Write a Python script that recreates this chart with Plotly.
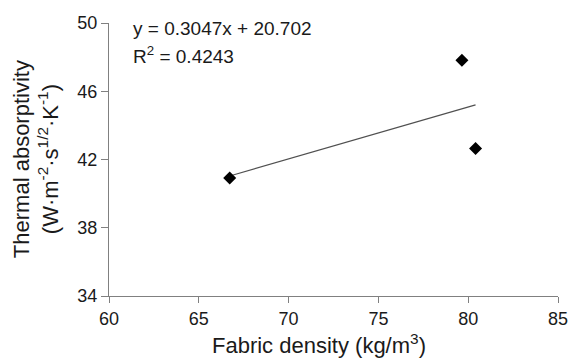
import plotly.graph_objects as go

density = [66.72, 79.65, 80.41]
absorptivity = [40.91, 47.81, 42.64]
slope = 0.3047
intercept = 20.702
r2 = 0.4243
x_ticks = [60, 65, 70, 75, 80, 85]
y_ticks = [34, 38, 42, 46, 50]

fit_x = [min(density), max(density)]
fit_y = [slope * v + intercept for v in fit_x]

FONT = "Liberation Sans, Arial, sans-serif"
TXT = "#1a1a1a"
AX = "#808080"
L, R, T, B = 109, 12, 23, 66
PW, PH = 580 - L - R, 362 - T - B


def px(x):
    return (x - L) / PW


def py(y):
    return (362 - B - y) / PH


fig = go.Figure()
fig.add_trace(go.Scatter(x=fit_x, y=fit_y, mode="lines",
                         line=dict(color="#505050", width=1.2), showlegend=False))
fig.add_trace(go.Scatter(x=density, y=absorptivity, mode="markers",
                         marker=dict(symbol="diamond", size=10, color="black"),
                         showlegend=False))

fig.update_layout(
    width=580, height=362,
    margin=dict(l=L, r=R, t=T, b=B),
    paper_bgcolor="white", plot_bgcolor="white",
    font=dict(family=FONT, color=TXT),
    xaxis=dict(range=[60, 85], tickvals=x_ticks, showgrid=False, zeroline=False,
               showline=True, linecolor=AX, linewidth=1,
               ticks="outside", ticklen=6, tickcolor=AX,
               tickfont=dict(size=18, family=FONT, color=TXT)),
    yaxis=dict(range=[34, 50], tickvals=y_ticks, showgrid=False, zeroline=False,
               showline=True, linecolor=AX, linewidth=1,
               ticks="outside", ticklen=7, tickcolor=AX,
               tickfont=dict(size=18, family=FONT, color=TXT)),
    annotations=[
        dict(text=f"y = {slope}x + {intercept}",
             xref="paper", yref="paper", x=px(131), y=py(41), xanchor="left", yanchor="bottom",
             showarrow=False, align="left", font=dict(size=19, family=FONT, color=TXT)),
        dict(text=f"R<sup>2</sup> = {r2}",
             xref="paper", yref="paper", x=px(131), y=py(41), xanchor="left", yanchor="top",
             showarrow=False, align="left", font=dict(size=19, family=FONT, color=TXT)),
        dict(text="Fabric density (kg/m<sup>3</sup>)",
             xref="paper", yref="paper", x=px(324), y=py(328), xanchor="center", yanchor="top",
             showarrow=False, font=dict(size=22, family=FONT, color=TXT)),
        dict(text="Thermal absorptivity<br>(W·m<sup>-2</sup>·s<sup>1/2</sup>·K<sup>-1</sup>)",
             xref="paper", yref="paper", x=px(34), y=0.5,
             xanchor="center", yanchor="middle", textangle=-90,
             showarrow=False, align="center", font=dict(size=22, family=FONT, color=TXT)),
    ],
)

fig.write_html("out.html")
